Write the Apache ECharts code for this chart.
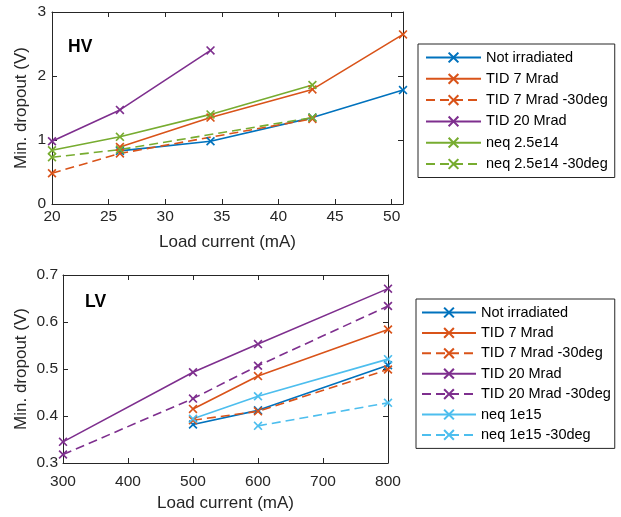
<!DOCTYPE html>
<html>
<head>
<meta charset="utf-8">
<script src="https://cdn.jsdelivr.net/npm/echarts@6/dist/echarts.min.js"></script>
<style>html,body{margin:0;padding:0;background:#fff}#c{width:621px;height:517px}</style>
</head>
<body>
<div id="c"></div>
<script>
// ---- HV data ----
const hvCurrent = [20, 26, 34, 43, 51];
const hvNotIrradiated = [null, 0.83, 0.98, 1.35, 1.78];
const hvTid7 = [null, 0.89, 1.35, 1.79, 2.65];
const hvTid7Deg30 = [0.48, 0.79, null, 1.33, null];
const hvTid20 = [0.98, 1.47, 2.40, null, null];
const hvNeq = [0.84, 1.05, 1.40, 1.86, null];
const hvNeqDeg30 = [0.73, 0.85, null, 1.35, null];
const hvNames = ['Not irradiated', 'TID 7 Mrad', 'TID 7 Mrad -30deg', 'TID 20 Mrad', 'neq 2.5e14', 'neq 2.5e14 -30deg'];

// ---- LV data ----
const lvCurrent = [300, 500, 600, 800];
const lvNotIrradiated = [null, 0.382, 0.412, 0.508];
const lvTid7 = [null, 0.415, 0.485, 0.584];
const lvTid7Deg30 = [null, 0.391, 0.410, 0.499];
const lvTid20 = [0.345, 0.493, 0.553, 0.671];
const lvTid20Deg30 = [0.318, 0.437, 0.507, 0.634];
const lvNeq = [null, 0.394, 0.442, 0.521];
const lvNeqDeg30 = [null, null, 0.379, 0.428];
const lvNames = ['Not irradiated', 'TID 7 Mrad', 'TID 7 Mrad -30deg', 'TID 20 Mrad', 'TID 20 Mrad -30deg', 'neq 1e15', 'neq 1e15 -30deg'];

const C = {blue:'#0072BD', orange:'#D95319', purple:'#7E2F8E', green:'#77AC30', cyan:'#4DBEEE'};
const AX = '#262626';
const FONT = 'Liberation Sans, Arial, sans-serif';
const XSYM = 'path://M0,1.3L1.3,0L5,3.7L8.7,0L10,1.3L6.3,5L10,8.7L8.7,10L5,6.3L1.3,10L0,8.7L3.7,5Z';

function pairs(xs, ys) {
  const out = [];
  xs.forEach((x, i) => { if (ys[i] !== null) out.push([x, ys[i]]); });
  return out;
}
function mk(name, xs, ys, color, dashed, xi, yi) {
  return {
    type: 'line', name: name, data: pairs(xs, ys),
    xAxisIndex: xi, yAxisIndex: yi,
    symbol: XSYM, symbolSize: 9, showSymbol: true,
    itemStyle: {color: color},
    lineStyle: {color: color, width: 1.6, type: dashed ? [9, 5] : 'solid'},
    emphasis: {disabled: true}, animation: false, z: 3
  };
}

function xAx(grid, min, max, interval, pos, show, margin) {
  return {
    type: 'value', gridIndex: grid, min: min, max: max, interval: interval, position: pos,
    axisLine: {show: true, onZero: false, lineStyle: {color: AX, width: 1}},
    axisTick: {show: true, inside: true, length: 5, lineStyle: {color: AX}},
    axisLabel: {show: show, color: AX, fontSize: 15.5, fontFamily: FONT, margin: margin,
      formatter: v => (v % interval === 0 ? String(v) : '')},
    splitLine: {show: false}
  };
}
function yAx(grid, min, max, interval, pos, show, margin, dec) {
  return {
    type: 'value', gridIndex: grid, min: min, max: max, interval: interval, position: pos,
    axisLine: {show: true, onZero: false, lineStyle: {color: AX, width: 1}},
    axisTick: {show: true, inside: true, length: 5, lineStyle: {color: AX}},
    axisLabel: {show: show, color: AX, fontSize: 15.5, fontFamily: FONT, margin: margin,
      formatter: v => v.toFixed(dec)},
    splitLine: {show: false}
  };
}

const NAME_STYLE = {fontSize: 17, color: AX, fontFamily: FONT};
const xAxes = [
  Object.assign(xAx(0, 20, 51, 5, 'bottom', true, 5), {name: 'Load current (mA)', nameLocation: 'middle', nameGap: 30, nameMoveOverlap: false, nameTextStyle: NAME_STYLE}),
  xAx(0, 20, 51, 5, 'top', false, 5),
  Object.assign(xAx(1, 300, 800, 100, 'bottom', true, 11), {name: 'Load current (mA)', nameLocation: 'middle', nameGap: 32, nameMoveOverlap: false, nameTextStyle: NAME_STYLE}),
  xAx(1, 300, 800, 100, 'top', false, 5)
];
const yAxes = [
  Object.assign(yAx(0, 0, 3, 1, 'left', true, 6, 0), {name: 'Min. dropout (V)', nameLocation: 'middle', nameGap: 22, nameMoveOverlap: false, nameTextStyle: NAME_STYLE}),
  yAx(0, 0, 3, 1, 'right', false, 6, 0),
  Object.assign(yAx(1, 0.3, 0.7, 0.1, 'left', true, 5, 1), {name: 'Min. dropout (V)', nameLocation: 'middle', nameGap: 33, nameMoveOverlap: false, nameTextStyle: NAME_STYLE}),
  yAx(1, 0.3, 0.7, 0.1, 'right', false, 6, 1)
];

const series = [
  mk(hvNames[0], hvCurrent, hvNotIrradiated, C.blue, false, 0, 0),
  mk(hvNames[1], hvCurrent, hvTid7, C.orange, false, 0, 0),
  mk(hvNames[2], hvCurrent, hvTid7Deg30, C.orange, true, 0, 0),
  mk(hvNames[3], hvCurrent, hvTid20, C.purple, false, 0, 0),
  mk(hvNames[4], hvCurrent, hvNeq, C.green, false, 0, 0),
  mk(hvNames[5], hvCurrent, hvNeqDeg30, C.green, true, 0, 0),
  mk(lvNames[0], lvCurrent, lvNotIrradiated, C.blue, false, 2, 2),
  mk(lvNames[1], lvCurrent, lvTid7, C.orange, false, 2, 2),
  mk(lvNames[2], lvCurrent, lvTid7Deg30, C.orange, true, 2, 2),
  mk(lvNames[3], lvCurrent, lvTid20, C.purple, false, 2, 2),
  mk(lvNames[4], lvCurrent, lvTid20Deg30, C.purple, true, 2, 2),
  mk(lvNames[5], lvCurrent, lvNeq, C.cyan, false, 2, 2),
  mk(lvNames[6], lvCurrent, lvNeqDeg30, C.cyan, true, 2, 2)
];

function legend(data, left, top, gap, itemW, padL, padR) {
  return {
    data: data, orient: 'vertical', left: left, top: top,
    itemWidth: itemW, itemHeight: 14, itemGap: gap,
    padding: [6, padR, 6, padL],
    borderColor: AX, borderWidth: 1, backgroundColor: '#fff',
    textStyle: {fontSize: 14.5, lineHeight: 14, color: '#000', fontFamily: FONT, padding: [0, 0, 0, 0]},
    selectedMode: false
  };
}

const chart = echarts.init(document.getElementById('c'), null, {renderer: 'canvas'});
chart.setOption({
  backgroundColor: '#fff',
  animation: false,
  grid: [
    {left: 52, top: 12, width: 351, height: 192, outerBoundsMode: 'none', containLabel: false},
    {left: 63, top: 275, width: 325, height: 188, outerBoundsMode: 'none', containLabel: false}
  ],
  xAxis: xAxes,
  yAxis: yAxes,
  legend: [
    legend(hvNames, 418, 44, 6.3, 55, 7, 7),
    legend(lvNames, 416, 299, 5.4, 54, 5, 4)
  ],
  graphic: [
    {type: 'text', left: 68, top: 38, style: {text: 'HV', font: 'bold 17.5px ' + FONT, fill: '#000'}},
    {type: 'text', left: 85, top: 293, style: {text: 'LV', font: 'bold 17.5px ' + FONT, fill: '#000'}}
  ],
  series: series
});
</script>
</body>
</html>
